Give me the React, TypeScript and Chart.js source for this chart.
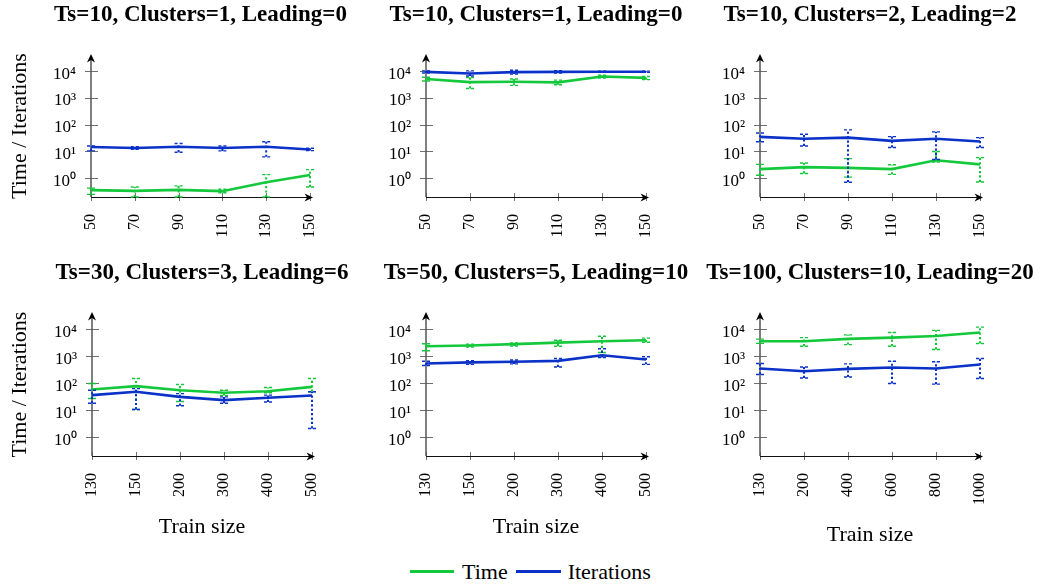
import React, { useEffect, useRef } from 'react';
import { Chart, registerables } from 'chart.js';

Chart.register(...registerables);

const GREEN = '#14c83c';
const BLUE = '#0a32c8';
const FONT = '"Liberation Serif", "Times New Roman", serif';

const Y_MIN = 0.2;
const Y_MAX = 40000;
const yTickValues = [1, 10, 100, 1000, 10000];
const yTickLabels = ['10⁰', '10¹', '10²', '10³', '10⁴'];

const seriesNames = ['Time', 'Iterations'];
const yAxisTitle = 'Time / Iterations';
const xAxisTitle = 'Train size';

// Panel 1
const title1 = 'Ts=10, Clusters=1, Leading=0';
const labels1 = ['50', '70', '90', '110', '130', '150'];
const time1 = [0.36, 0.34, 0.37, 0.33, 0.71, 1.33];
const time1Low = [0.25, 0.2, 0.2, 0.29, 0.2, 0.47];
const time1High = [0.43, 0.47, 0.52, 0.39, 1.37, 2.1];
const iter1 = [14.8, 13.5, 15, 13.5, 15, 11.8];
const iter1Low = [10.5, 12, 9.4, 10.5, 6.3, 10.8];
const iter1High = [16, 15, 20, 16, 23, 13.2];

// Panel 2
const title2 = 'Ts=10, Clusters=1, Leading=0';
const labels2 = ['50', '70', '90', '110', '130', '150'];
const time2 = [5100, 3900, 4000, 3800, 6300, 5600];
const time2Low = [4300, 2250, 2950, 3100, 5500, 4800];
const time2High = [5900, 5800, 5100, 4600, 7000, 6300];
const iter2 = [9400, 8200, 9200, 9400, 9500, 9500];
const iter2Low = [8500, 6600, 7800, 8500, 9000, 9000];
const iter2High = [10200, 10200, 10800, 10300, 10000, 10000];

// Panel 3
const title3 = 'Ts=10, Clusters=2, Leading=2';
const labels3 = ['50', '70', '90', '110', '130', '150'];
const time3 = [2.2, 2.6, 2.45, 2.2, 4.7, 3.3];
const time3Low = [1.3, 1.5, 1.1, 1.4, 4.0, 0.73];
const time3High = [3.3, 3.7, 5.4, 3.2, 10, 5.9];
const iter3 = [35, 30, 33, 25, 30, 23.5];
const iter3Low = [23, 16, 0.71, 14, 5, 14];
const iter3High = [49, 44, 64, 36, 54, 33];

// Panel 4
const title4 = 'Ts=30, Clusters=3, Leading=6';
const labels4 = ['130', '150', '200', '300', '400', '500'];
const time4 = [58, 78, 55, 44, 50, 73];
const time4Low = [27, 10.6, 21, 35, 44, 48];
const time4High = [97, 149, 89, 55, 69, 149];
const iter4 = [36, 48, 31, 23.5, 29, 35];
const iter4Low = [18, 10.6, 14.5, 18, 20, 2.1];
const iter4High = [55, 63, 41, 31, 36, 48];

// Panel 5
const title5 = 'Ts=50, Clusters=5, Leading=10';
const labels5 = ['130', '150', '200', '300', '400', '500'];
const time5 = [2350, 2500, 2800, 3200, 3600, 3900];
const time5Low = [1600, 2200, 2400, 2350, 1380, 3300];
const time5High = [2900, 2800, 3100, 3900, 5500, 4700];
const iter5 = [540, 590, 620, 670, 1090, 760];
const iter5Low = [450, 500, 520, 400, 900, 500];
const iter5High = [650, 680, 720, 820, 1900, 950];

// Panel 6
const title6 = 'Ts=100, Clusters=10, Leading=20';
const labels6 = ['130', '200', '400', '600', '800', '1000'];
const time6 = [3600, 3600, 4400, 4900, 5600, 7600];
const time6Low = [3000, 2350, 2700, 2350, 1780, 2950];
const time6High = [4300, 4900, 6200, 7600, 9100, 12000];
const iter6 = [350, 278, 340, 380, 350, 490];
const iter6Low = [210, 155, 170, 98, 92, 149];
const iter6High = [540, 400, 520, 650, 620, 820];

type PanelData = {
  title: string;
  labels: string[];
  time: number[];
  timeLow: number[];
  timeHigh: number[];
  iter: number[];
  iterLow: number[];
  iterHigh: number[];
};

type Layout = {
  cx: number; cy: number; cw: number; ch: number;
  L: number; T: number; R: number; B: number;
  xh: number; yTitle: boolean; xTitle: boolean;
};

const panels: PanelData[] = [
  { title: title1, labels: labels1, time: time1, timeLow: time1Low, timeHigh: time1High, iter: iter1, iterLow: iter1Low, iterHigh: iter1High },
  { title: title2, labels: labels2, time: time2, timeLow: time2Low, timeHigh: time2High, iter: iter2, iterLow: iter2Low, iterHigh: iter2High },
  { title: title3, labels: labels3, time: time3, timeLow: time3Low, timeHigh: time3High, iter: iter3, iterLow: iter3Low, iterHigh: iter3High },
  { title: title4, labels: labels4, time: time4, timeLow: time4Low, timeHigh: time4High, iter: iter4, iterLow: iter4Low, iterHigh: iter4High },
  { title: title5, labels: labels5, time: time5, timeLow: time5Low, timeHigh: time5High, iter: iter5, iterLow: iter5Low, iterHigh: iter5High },
  { title: title6, labels: labels6, time: time6, timeLow: time6Low, timeHigh: time6High, iter: iter6, iterLow: iter6Low, iterHigh: iter6High },
];

const layouts: Layout[] = [
  { cx: 0, cy: 0, cw: 348, ch: 252, L: 91, T: 55, R: 310, B: 197, xh: 50, yTitle: true, xTitle: false },
  { cx: 348, cy: 0, cw: 342, ch: 252, L: 426, T: 55, R: 646, B: 197, xh: 50, yTitle: false, xTitle: false },
  { cx: 690, cy: 0, cw: 354, ch: 252, L: 760, T: 55, R: 980, B: 197, xh: 50, yTitle: false, xTitle: false },
  { cx: 0, cy: 258, cw: 348, ch: 292, L: 92, T: 313, R: 312, B: 456, xh: 84.2, yTitle: true, xTitle: true },
  { cx: 348, cy: 258, cw: 342, ch: 292, L: 426, T: 313, R: 646, B: 456, xh: 84.2, yTitle: false, xTitle: true },
  { cx: 690, cy: 258, cw: 354, ch: 292, L: 760, T: 313, R: 980, B: 456, xh: 92.2, yTitle: false, xTitle: true },
];

function stealth(ctx: CanvasRenderingContext2D, tx: number, ty: number, dx: number, dy: number) {
  const len = 8.5, hw = 4, inset = 2.6;
  const nx = -dy, ny = dx;
  ctx.beginPath();
  ctx.moveTo(tx, ty);
  ctx.lineTo(tx - dx * len + nx * hw, ty - dy * len + ny * hw);
  ctx.lineTo(tx - dx * (len - inset), ty - dy * (len - inset));
  ctx.lineTo(tx - dx * len - nx * hw, ty - dy * len - ny * hw);
  ctx.closePath();
  ctx.fill();
}

const decoPlugin = {
  id: 'panelDeco',
  beforeDatasetsDraw(chart: any) {
    const { ctx, chartArea: a, scales } = chart;
    const x = scales.x, y = scales.y;
    ctx.save();
    ctx.strokeStyle = '#707070';
    ctx.lineWidth = 1;
    yTickValues.forEach((v) => {
      const py = Math.round(y.getPixelForValue(v)) + 0.5;
      ctx.beginPath();
      ctx.moveTo(a.left - 6, py);
      ctx.lineTo(a.left + 7, py);
      ctx.stroke();
    });
    for (let i = 0; i < chart.data.labels.length; i++) {
      const px = Math.round(x.getPixelForValue(i)) + 0.5;
      ctx.beginPath();
      ctx.moveTo(px, a.bottom - 4);
      ctx.lineTo(px, a.bottom + 4);
      ctx.stroke();
    }
    ctx.strokeStyle = '#555';
    ctx.lineWidth = 1.5;
    ctx.beginPath();
    ctx.moveTo(a.left, a.bottom);
    ctx.lineTo(a.left, a.top + 5);
    ctx.stroke();
    ctx.strokeStyle = '#111';
    ctx.lineWidth = 1.1;
    ctx.beginPath();
    ctx.moveTo(a.left, a.bottom + 0.5);
    ctx.lineTo(a.right, a.bottom + 0.5);
    ctx.stroke();
    ctx.restore();
  },
  afterDatasetDraw(chart: any, args: any) {
    const ds = chart.data.datasets[args.index];
    const low: number[] = ds.errLow;
    const high: number[] = ds.errHigh;
    if (!low || !high) return;
    const { ctx, scales } = chart;
    const x = scales.x, y = scales.y;
    ctx.save();
    ctx.strokeStyle = ds.borderColor;
    for (let i = 0; i < low.length; i++) {
      const px = x.getPixelForValue(i);
      const yl = y.getPixelForValue(Math.max(low[i], Y_MIN));
      const yh = y.getPixelForValue(high[i]);
      ctx.lineWidth = 2;
      ctx.setLineDash([2.2, 2.2]);
      ctx.beginPath();
      ctx.moveTo(px, yl);
      ctx.lineTo(px, yh);
      ctx.stroke();
      ctx.lineWidth = 1.4;
      ctx.setLineDash([3, 2]);
      [yl, yh].forEach((yy) => {
        ctx.beginPath();
        ctx.moveTo(px - 4, yy);
        ctx.lineTo(px + 4, yy);
        ctx.stroke();
      });
    }
    ctx.restore();
  },
  afterDraw(chart: any, _args: any, opts: any) {
    const { ctx, chartArea: a } = chart;
    ctx.save();
    ctx.fillStyle = '#000';
    stealth(ctx, a.left, a.top - 1, 0, -1);
    stealth(ctx, a.right + 3, a.bottom + 0.5, 1, 0);
    ctx.font = `bold 23px ${FONT}`;
    ctx.textAlign = 'center';
    ctx.textBaseline = 'alphabetic';
    ctx.fillText(opts.title, (a.left + a.right) / 2, a.top - 34.5);
    ctx.restore();
  },
};

function makeConfig(p: PanelData, l: Layout): any {
  return {
    type: 'line',
    data: {
      labels: p.labels,
      datasets: [
        {
          label: seriesNames[1],
          data: p.iter,
          errLow: p.iterLow,
          errHigh: p.iterHigh,
          borderColor: BLUE,
          backgroundColor: BLUE,
          borderWidth: 2.6,
          pointRadius: 0,
          tension: 0,
          fill: false,
        },
        {
          label: seriesNames[0],
          data: p.time,
          errLow: p.timeLow,
          errHigh: p.timeHigh,
          borderColor: GREEN,
          backgroundColor: GREEN,
          borderWidth: 2.6,
          pointRadius: 0,
          tension: 0,
          fill: false,
        },
      ],
    },
    options: {
      animation: false,
      responsive: false,
      maintainAspectRatio: false,
      devicePixelRatio: 1,
      layout: {
        padding: {
          left: 0,
          right: l.cx + l.cw - l.R,
          top: l.T - l.cy,
          bottom: l.cy + l.ch - l.B - l.xh,
        },
      },
      plugins: {
        legend: { display: false },
        tooltip: { enabled: false },
        title: { display: false },
        panelDeco: { title: p.title },
      },
      scales: {
        x: {
          type: 'category',
          offset: false,
          grid: { display: false, drawTicks: false },
          border: { display: false },
          ticks: {
            minRotation: 90,
            maxRotation: 90,
            autoSkip: false,
            padding: 17,
            color: '#000',
            font: { family: FONT, size: 16 },
          },
          title: {
            display: l.xTitle,
            text: xAxisTitle,
            color: '#000',
            font: { family: FONT, size: 22 },
            padding: { top: 0, bottom: 0 },
          },
          afterFit: (s: any) => {
            s.height = l.xh;
            s.paddingLeft = 0;
            s.paddingRight = 0;
          },
        },
        y: {
          type: 'logarithmic',
          min: Y_MIN,
          max: Y_MAX,
          grid: { display: false, drawTicks: false },
          border: { display: false },
          afterBuildTicks: (s: any) => {
            s.ticks = yTickValues.map((v) => ({ value: v }));
          },
          ticks: {
            callback: (_v: any, i: number) => yTickLabels[i],
            padding: 15,
            labelOffset: 3,
            color: '#000',
            font: { family: FONT, size: 17 },
          },
          title: {
            display: l.yTitle,
            text: yAxisTitle,
            color: '#000',
            font: { family: FONT, size: 22 },
            padding: { top: 7.4, bottom: 0 },
          },
          afterFit: (s: any) => {
            s.width = l.L - l.cx;
            s.paddingTop = 0;
            s.paddingBottom = 0;
          },
        },
      },
    },
    plugins: [decoPlugin],
  };
}

function PanelChart({ p, l }: { p: PanelData; l: Layout }) {
  const ref = useRef<HTMLCanvasElement>(null);
  useEffect(() => {
    if (!ref.current) return;
    const chart = new Chart(ref.current, makeConfig(p, l));
    return () => chart.destroy();
  }, []);
  return (
    <canvas
      ref={ref}
      width={l.cw}
      height={l.ch}
      style={{ position: 'absolute', left: l.cx, top: l.cy, width: l.cw, height: l.ch }}
    />
  );
}

export default function App() {
  return (
    <div style={{ position: 'absolute', left: 0, top: 0, width: 1044, height: 588, background: '#fff', overflow: 'hidden' }}>
      {panels.map((p, i) => (
        <PanelChart key={i} p={p} l={layouts[i]} />
      ))}
      <div
        style={{
          position: 'absolute',
          left: 410,
          top: 558,
          height: 27,
          display: 'flex',
          alignItems: 'center',
          fontFamily: FONT,
          fontSize: 22,
          color: '#000',
          whiteSpace: 'nowrap',
        }}
      >
        <span style={{ display: 'inline-block', width: 44, height: 3, background: GREEN, marginRight: 8 }} />
        <span style={{ marginRight: 8 }}>{seriesNames[0]}</span>
        <span style={{ display: 'inline-block', width: 45, height: 3, background: BLUE, marginRight: 7 }} />
        <span>{seriesNames[1]}</span>
      </div>
    </div>
  );
}
